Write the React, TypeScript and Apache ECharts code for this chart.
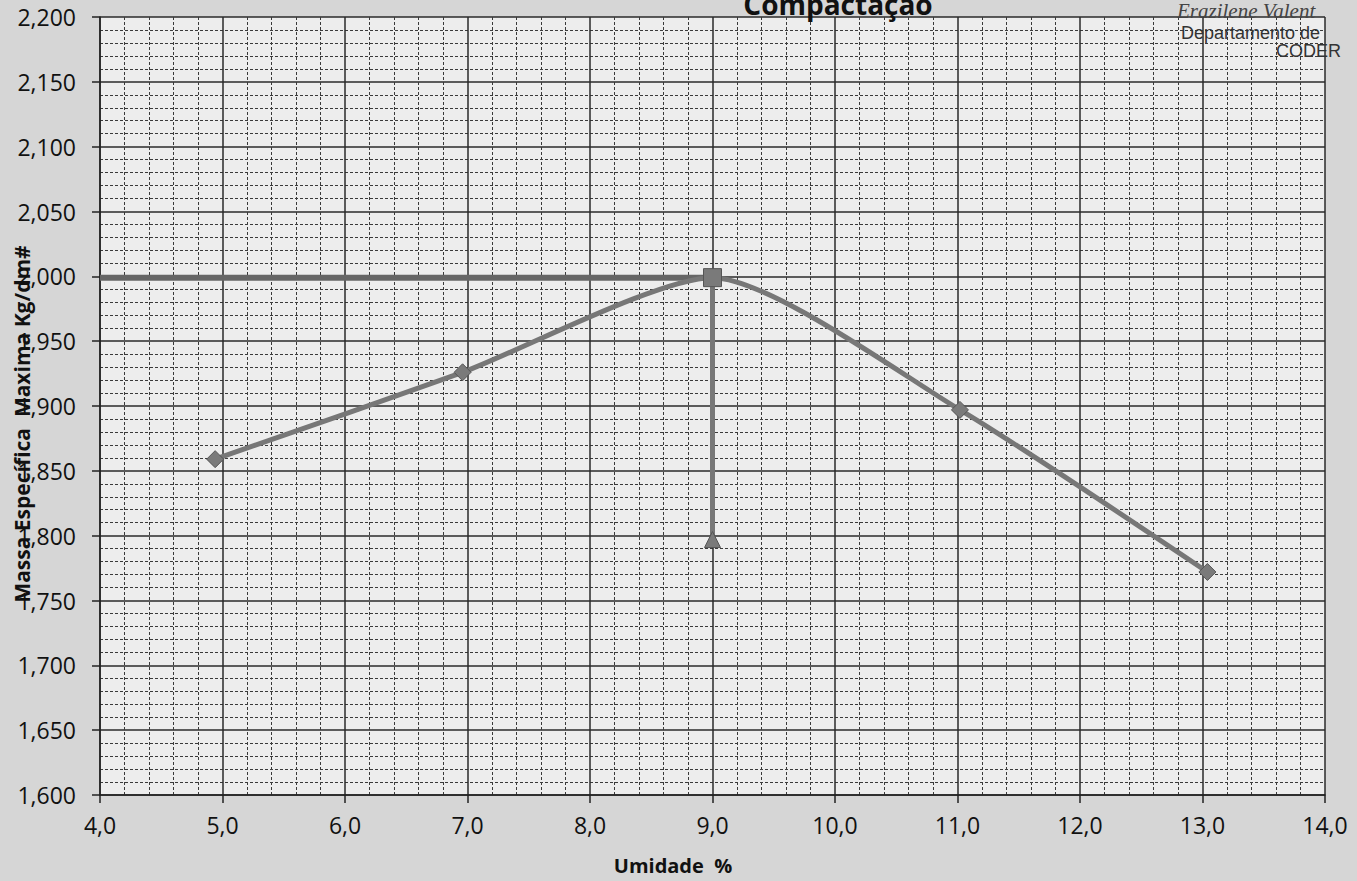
import React, { useEffect, useRef } from "react";
import * as echarts from "echarts";

// Data
const umidade = [4.94, 6.96, 9.0, 11.02, 13.04];
const massa = [1.859, 1.926, 1.999, 1.897, 1.772];
const maxLineX = [4.0, 9.0];
const maxLineY = [1.999, 1.999];
const optLineX = [9.0, 9.0];
const optLineY = [1.999, 1.797];

const xMin = 4;
const xMax = 14;
const xStep = 1;
const yMin = 1.6;
const yMax = 2.2;
const yStep = 0.05;

const titleText = "Compactação";
const xName = "Umidade  %";
const yName = "Massa Específica  Maxima Kg/dm#";
const authorText = "Erazilene Valent";
const deptText = "Departamento de";
const orgText = "CODER";

const fmtY = (v: number) => v.toFixed(3).replace(".", ",");
const fmtX = (v: number) => v.toFixed(1).replace(".", ",");

export default function App() {
  const ref = useRef<HTMLDivElement>(null);
  useEffect(() => {
    if (!ref.current) return;
    const chart = echarts.init(ref.current, null, { renderer: "svg" });
    const font = "'Open Sans', sans-serif";
    const curveData = umidade.map((x, i) => [x, massa[i]]);
    const maxData = maxLineX.map((x, i) => [x, maxLineY[i]]);
    const optData = optLineX.map((x, i) => ({
      value: [x, optLineY[i]],
      symbol: i === 0 ? "rect" : "triangle",
      symbolSize: i === 0 ? 18 : 16,
    }));
    chart.setOption({
      animation: false,
      backgroundColor: "#d6d6d6",
      grid: {
        left: 100,
        right: 32,
        top: 17,
        bottom: 86,
        show: true,
        backgroundColor: "#ededed",
        borderWidth: 0,
      },
      xAxis: {
        type: "value",
        min: xMin,
        max: xMax,
        interval: xStep,
        axisLine: { show: true, onZero: false, lineStyle: { color: "#222", width: 1.5 } },
        axisTick: { show: true, length: 8, lineStyle: { color: "#222", width: 1.5 } },
        axisLabel: {
          formatter: (v: number) => fmtX(v),
          color: "#111",
          fontFamily: font,
          fontSize: 23,
          margin: 18,
        },
        splitLine: { show: true, lineStyle: { color: "#2a2a2a", width: 1.5 } },
        minorTick: { show: false, splitNumber: 5 },
        minorSplitLine: { show: true, lineStyle: { color: "#3a3a3a", width: 1, type: [3, 2] } },
      },
      yAxis: {
        type: "value",
        min: yMin,
        max: yMax,
        interval: yStep,
        axisLine: { show: true, lineStyle: { color: "#222", width: 1.5 } },
        axisTick: { show: true, length: 8, lineStyle: { color: "#222", width: 1.5 } },
        axisLabel: {
          formatter: (v: number) => fmtY(v),
          color: "#111",
          fontFamily: font,
          fontSize: 23,
          margin: 24,
        },
        splitLine: { show: true, lineStyle: { color: "#2a2a2a", width: 1.5 } },
        minorTick: { show: false, splitNumber: 5 },
        minorSplitLine: { show: true, lineStyle: { color: "#3a3a3a", width: 1, type: [3, 2] } },
      },
      series: [
        {
          name: "max",
          type: "line",
          data: maxData,
          showSymbol: false,
          symbol: "none",
          lineStyle: { color: "#666", width: 6 },
          z: 3,
        },
        {
          name: "curva",
          type: "line",
          data: curveData,
          smooth: 0.22,
          symbol: "diamond",
          symbolSize: 17,
          itemStyle: { color: "#7a7a7a", borderColor: "#555", borderWidth: 1 },
          lineStyle: { color: "#777", width: 5 },
          z: 4,
        },
        {
          name: "otimo",
          type: "line",
          data: optData,
          itemStyle: { color: "#7a7a7a", borderColor: "#555", borderWidth: 1 },
          lineStyle: { color: "#777", width: 5 },
          z: 5,
        },
      ],
      graphic: [
        {
          type: "text",
          x: 838,
          y: 18,
          style: {
            text: titleText,
            fontFamily: font,
            fontWeight: "bold",
            fontSize: 28,
            fill: "#111",
            textAlign: "center",
            textVerticalAlign: "bottom",
          },
          z: 10,
        },
        {
          type: "text",
          x: 1177,
          y: 21,
          style: {
            text: authorText,
            fontFamily: "'Liberation Serif', serif",
            fontStyle: "italic",
            fontSize: 21,
            fill: "#444",
            textVerticalAlign: "bottom",
          },
          z: 10,
        },
        {
          type: "text",
          x: 1181,
          y: 33,
          style: {
            text: deptText,
            fontFamily: "'Liberation Sans', Arial, sans-serif",
            fontSize: 18,
            lineHeight: 14,
            fill: "#333",
            textVerticalAlign: "middle",
          },
          z: 10,
        },
        {
          type: "text",
          x: 1276,
          y: 51,
          style: {
            text: orgText,
            fontFamily: "'Liberation Sans', Arial, sans-serif",
            fontSize: 18,
            lineHeight: 14,
            fill: "#333",
            textVerticalAlign: "middle",
          },
          z: 10,
        },
        {
          type: "text",
          x: 673,
          y: 865,
          style: {
            text: xName,
            fontFamily: font,
            fontWeight: "bold",
            fontSize: 20,
            fill: "#111",
            textAlign: "center",
            textVerticalAlign: "middle",
          },
          z: 10,
        },
        {
          type: "text",
          x: 22,
          y: 424,
          rotation: Math.PI / 2,
          style: {
            text: yName,
            fontFamily: font,
            fontWeight: "bold",
            fontSize: 21,
            fill: "#111",
            textAlign: "center",
            textVerticalAlign: "middle",
          },
          z: 10,
        },
      ],
    });
    return () => chart.dispose();
  }, []);
  return (
    <div
      ref={ref}
      style={{ position: "fixed", left: 0, top: 0, width: 1357, height: 881 }}
    />
  );
}
